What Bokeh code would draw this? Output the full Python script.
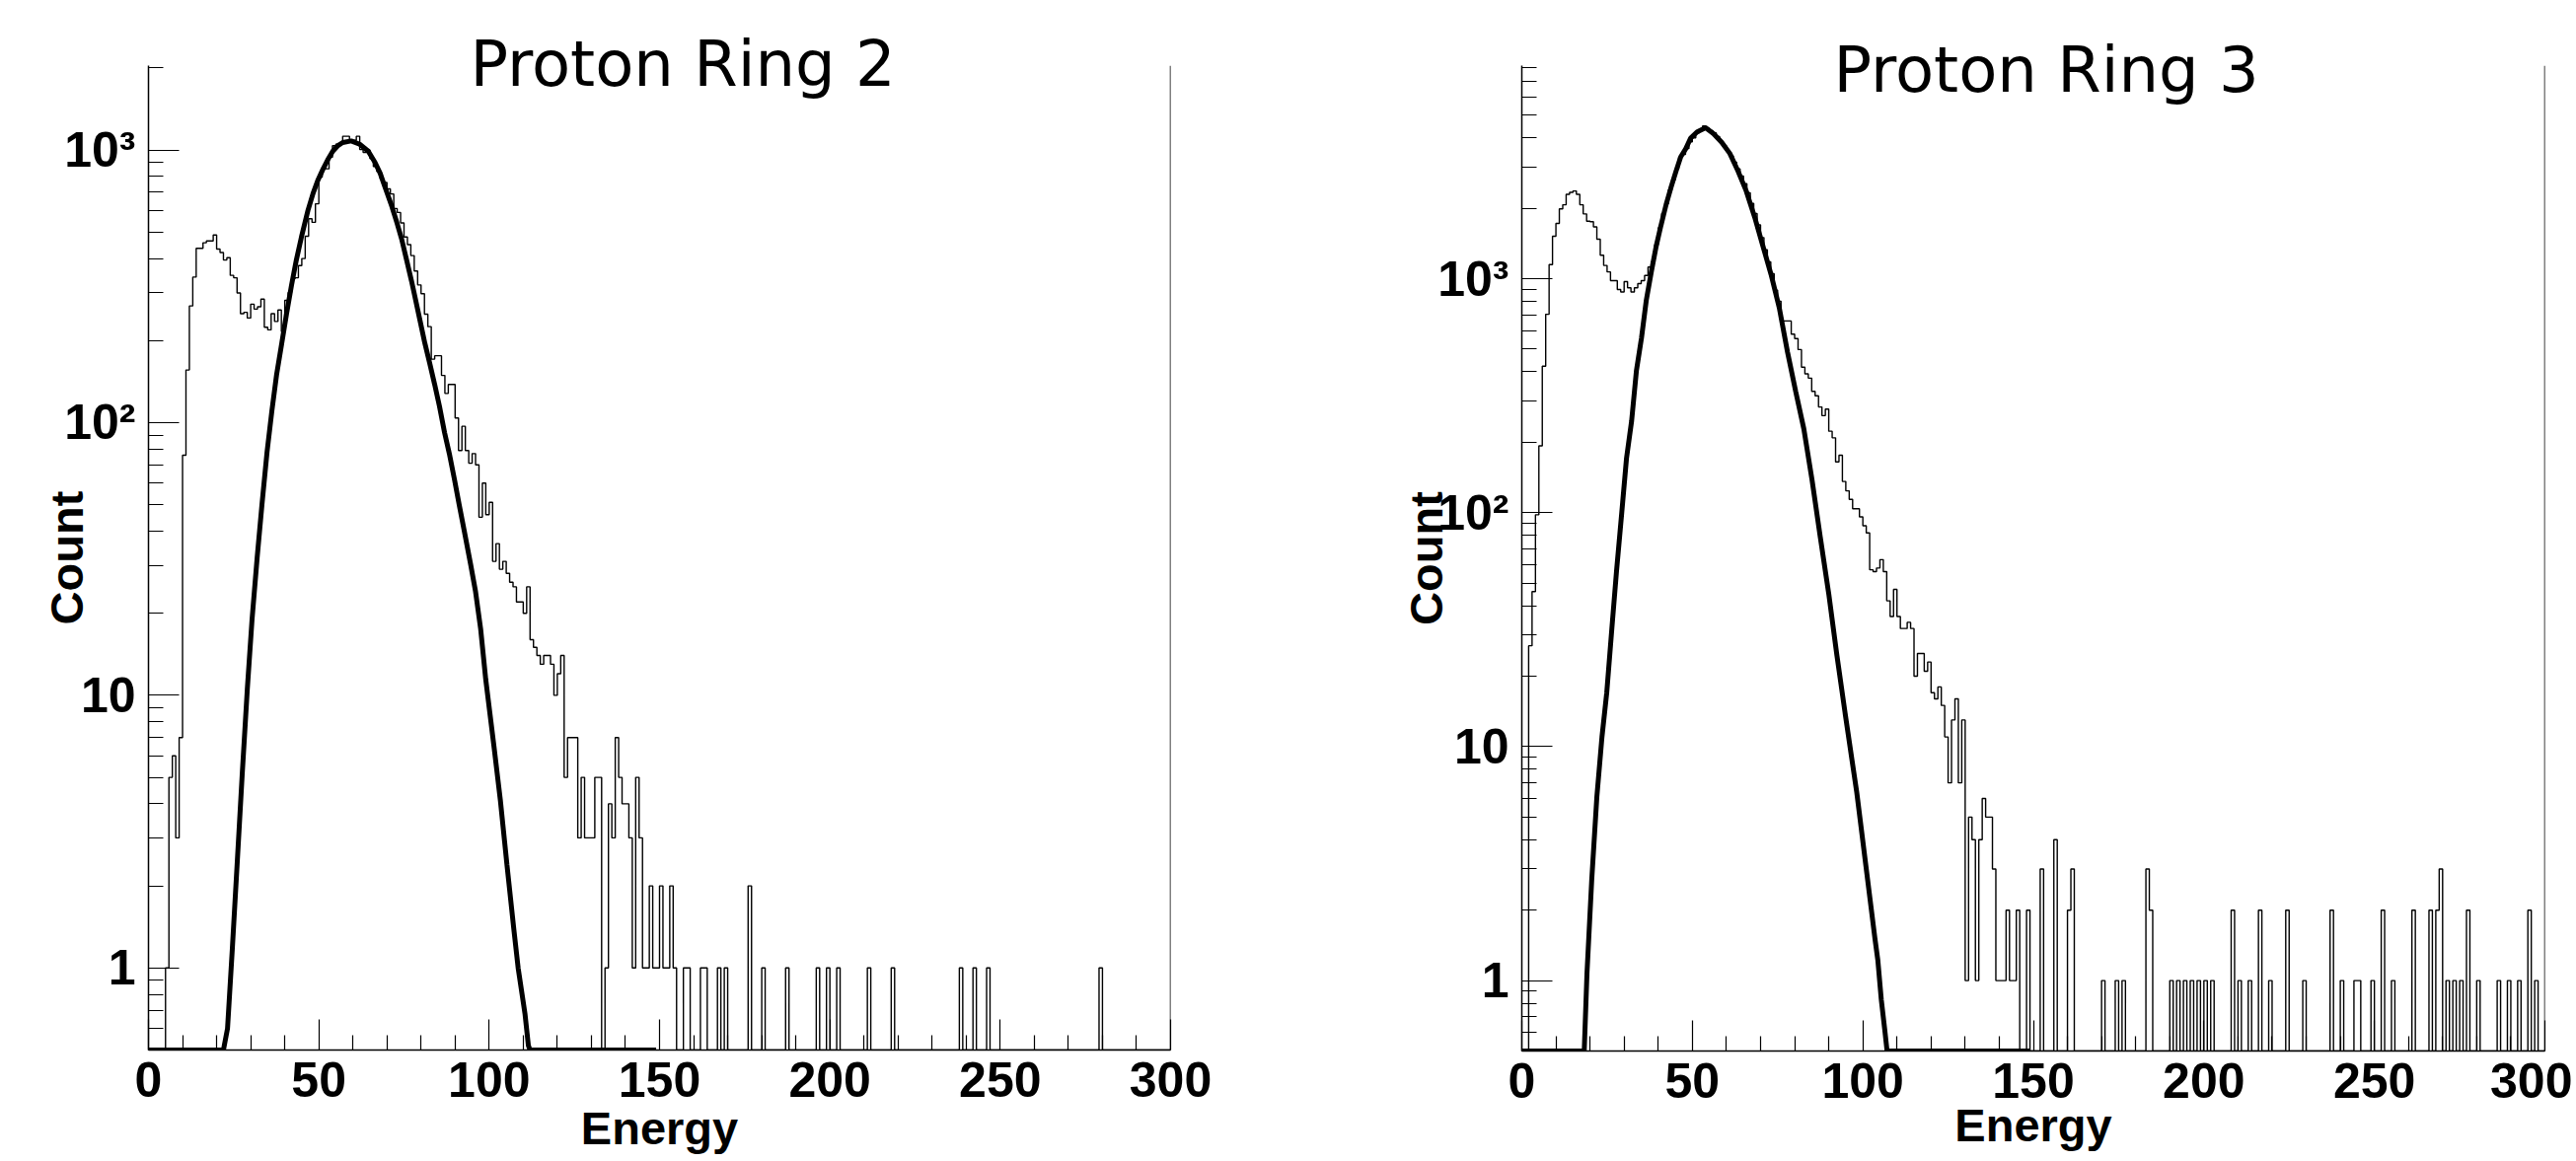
import numpy as np
from bokeh.plotting import figure
from bokeh.layouts import row
from bokeh.models import FixedTicker, Range1d, Span, CustomJSTickFormatter, Title
from bokeh.embed import file_html
from bokeh.resources import INLINE

# ---------------- data ----------------
N_BINS = 300
X_MAJOR = [0, 50, 100, 150, 200, 250, 300]
X_MINOR = [v for v in range(0, 301, 10) if v % 50]
Y_MAJOR = [1, 10, 100, 1000]
Y_MAJOR_LABELS = ["1", "10", "10\u00b2", "10\u00b3"]
Y_MIN = 0.5

# Proton Ring 2: counts of bins 0..149 (bin width 1)
ring2_head = [
    0, 0, 0, 0, 0, 1, 5, 6, 3, 7,
    76, 156, 268, 342, 436, 436, 457, 464, 464, 488,
    433, 421, 395, 403, 347, 340, 299, 251, 254, 242,
    272, 261, 266, 284, 224, 219, 251, 235, 259, 216,
    281, 300, 337, 340, 377, 400, 483, 560, 543, 635,
    796, 866, 853, 941, 1037, 1051, 1051, 1123, 1123, 1085,
    1085, 1123, 1004, 980, 1000, 930, 870, 835, 785, 760,
    720, 690, 610, 590, 540, 480, 450, 410, 360, 320,
    297, 250, 225, 171, 176, 176, 149, 128, 138, 138,
    104, 79, 97, 79, 71, 77, 70, 45, 60, 46,
    51, 31, 36, 29, 31, 28, 26, 25, 22, 22,
    20, 25, 16, 15, 14, 13, 14, 14, 13, 10,
    12, 14, 5, 7, 7, 7, 3, 5, 3, 3,
    3, 5, 5, 0, 1, 4, 3, 7, 5, 4,
    4, 3, 1, 5, 3, 1, 1, 2, 1, 1,
]
ring2_tail_bins = [150, 151, 152, 153, 154, 157, 158, 162, 163, 167, 169, 176, 180, 187,
                   196, 199, 202, 211, 218, 238, 242, 246, 279]
ring2_tail_counts = [2, 1, 1, 2, 1, 1, 1, 1, 1, 1, 1, 2, 1, 1,
                     1, 1, 1, 1, 1, 1, 1, 1, 1]
ring2_fit_x = [0, 22.0, 23.2, 24.6, 26.1, 27.5, 29.0, 30.4, 31.9, 33.3, 34.8, 36.2, 37.6,
               39.1, 40.5, 42.0, 43.4, 44.9, 46.8, 48.3, 49.7, 51.2, 52.6, 54.1, 55.5, 57.0,
               59.5, 62.0, 64.5, 66.5, 68.0, 69.5, 71.4, 72.9, 74.3, 75.8, 77.2, 78.2, 79.6,
               81.1, 82.5, 84.0, 85.4, 86.9, 88.3, 89.8, 91.2, 92.7, 94.6, 96.0, 97.5, 99.0,
               101.4, 103.3, 105.2, 107.2, 108.5, 110.5, 111.5, 112.0, 149.0]
ring2_fit_y = [0, 0, 0.6, 1.17, 2.5, 5.1, 10.5, 19, 32, 50, 78, 110, 150,
               195, 250, 320, 395, 480, 600, 693, 774, 850, 920, 990, 1035, 1065,
               1080, 1050, 990, 900, 822, 726, 623, 542, 472, 393, 331, 290, 240,
               196, 166, 138, 115, 92, 77, 62, 50, 40, 30, 24, 17.5, 11.4,
               6.5, 4.1, 2.4, 1.4, 1.0, 0.68, 0.52, 0, 0]

# Proton Ring 3
ring3_head = [
    0, 0, 27, 46, 98, 193, 423, 705, 1150, 1520,
    1725, 1990, 2071, 2295, 2340, 2373, 2295, 2071, 1893, 1761,
    1753, 1667, 1475, 1260, 1140, 1070, 982, 982, 900, 878,
    972, 915, 878, 915, 953, 982, 1033, 1122, 1180, 1400,
    1650, 1900, 2100, 2400, 2650, 2950, 3300, 3400, 3600, 3850,
    4000, 4200, 4300, 4500, 4400, 4300, 4200, 4050, 3850, 3700,
    3500, 3350, 3150, 2950, 2750, 2550, 2330, 2100, 1900, 1700,
    1500, 1330, 1180, 1050, 894, 802, 660, 660, 660, 580,
    555, 498, 419, 392, 376, 330, 316, 283, 260, 277,
    223, 209, 165, 176, 136, 124, 114, 104, 104, 96,
    88, 82, 57, 56, 58, 63, 56, 42, 36, 47,
    36, 32, 32, 34, 32, 20, 25, 25, 21, 23,
    17, 16, 18, 15, 11, 7, 13, 16, 7, 13,
    1, 5, 4, 1, 4, 6, 5, 5, 3, 1,
    1, 1, 2, 1, 1, 2, 0, 0, 2, 0,
]
ring3_tail_bins = [152, 156, 160, 161, 170, 174, 176, 183, 184, 190, 192, 194, 196, 198,
                   200, 202, 208, 210, 213, 216, 219, 224, 229, 237, 240, 244, 245, 249,
                   252, 255, 261, 266, 268, 269, 271, 273, 275, 277, 280, 286, 289, 292,
                   295, 297]
ring3_tail_counts = [3, 4, 2, 3, 1, 1, 1, 3, 2, 1, 1, 1, 1, 1,
                     1, 1, 2, 1, 1, 2, 1, 2, 1, 2, 1, 1, 1, 1,
                     2, 1, 2, 2, 2, 3, 1, 1, 1, 2, 1, 1, 1, 1,
                     2, 1]
ring3_fit_x = [0, 18.3, 19.1, 20.5, 22.0, 23.5, 24.9, 26.4, 27.8, 29.3, 30.7, 32.2, 33.6,
               35.1, 36.5, 38.0, 39.4, 40.8, 42.3, 43.7, 45.2, 46.6, 48.1, 49.5, 51.4, 53.9,
               56.2, 58.6, 61.0, 63.4, 65.8, 68.3, 70.7, 73.1, 75.5, 77.9, 80.3, 82.7, 85.1,
               87.5, 90.0, 92.4, 94.8, 96.7, 98.2, 103.5, 104.4, 105.4, 106.4, 107.1, 149.0]
ring3_fit_y = [0, 0, 1.07, 2.7, 6.1, 11, 17, 32, 57, 100, 171, 247, 404,
               560, 809, 1077, 1377, 1690, 2073, 2443, 2877, 3320, 3600, 3990, 4245, 4420,
               4170, 3830, 3430, 2882, 2372, 1829, 1379, 1041, 751, 487, 330, 228, 138,
               79, 45, 24.5, 13.9, 9.0, 6.4, 1.53, 1.22, 0.83, 0.62, 0, 0]

TITLES = ["Proton Ring 2", "Proton Ring 3"]
X_TITLE = "Energy"
Y_TITLE = "Count"
Y_TOPS = [2040, 8150]


def full_counts(head, tail_bins, tail_counts):
    c = np.zeros(N_BINS)
    c[:len(head)] = head
    for b, n in zip(tail_bins, tail_counts):
        c[b] = n
    return c


def step_path(counts):
    xs, ys = [], []
    for i, c in enumerate(counts):
        y = max(c, Y_MIN)
        xs += [i, i + 1]
        ys += [y, y]
    return xs, ys


def y_minor(top):
    ticks = [0.6, 0.7, 0.8, 0.9]
    for dec in [1, 10, 100, 1000]:
        for m in range(2, 10):
            v = m * dec
            if v <= top:
                ticks.append(v)
    return ticks


FONT = "Liberation Sans"


def make_panel(title, counts, fx, fy, ytop, geo):
    t = Title(text=title, align="left", offset=geo["toff"], standoff=geo["tso"],
              vertical_align="bottom", text_font="DejaVu Sans", text_font_size="64px",
              text_font_style="normal", text_color="black")
    p = figure(x_range=Range1d(0, 300), y_range=Range1d(Y_MIN, ytop), y_axis_type="log",
               title=t, title_location="above",
               frame_width=geo["fw"], frame_height=geo["fh"],
               min_border_left=geo["bl"], min_border_right=geo["br"],
               min_border_top=geo["bt"], min_border_bottom=geo["bb"],
               output_backend="svg", toolbar_location=None)
    p.grid.visible = False
    p.outline_line_color = None
    p.background_fill_color = "white"
    p.border_fill_color = "white"

    xs, ys = step_path(counts)
    p.line(xs, ys, line_color="black", line_width=1.4)
    p.line(fx, np.maximum(np.array(fy, dtype=float), Y_MIN), line_color="black", line_width=5)

    p.add_layout(Span(location=300, dimension="height", line_color="black", line_width=1.5))

    for ax in (p.xaxis[0], p.yaxis[0]):
        ax.axis_line_color = "black"
        ax.axis_line_width = 1.5
        ax.major_tick_line_color = "black"
        ax.minor_tick_line_color = "black"
        ax.major_tick_line_width = 1.2
        ax.minor_tick_line_width = 1.2
        ax.major_tick_in = 31
        ax.major_tick_out = 0
        ax.minor_tick_in = 15
        ax.minor_tick_out = 0
        ax.major_label_text_font = FONT
        ax.major_label_text_font_style = "bold"
        ax.major_label_text_font_size = "50px"
        ax.major_label_text_color = "black"
        ax.axis_label_text_font = FONT
        ax.axis_label_text_font_style = "bold"
        ax.axis_label_text_font_size = "47px"
        ax.axis_label_text_color = "black"

    p.xaxis.ticker = FixedTicker(ticks=X_MAJOR, minor_ticks=X_MINOR)
    p.yaxis.ticker = FixedTicker(ticks=Y_MAJOR, minor_ticks=y_minor(ytop))
    p.yaxis.formatter = CustomJSTickFormatter(
        args=dict(vals=Y_MAJOR, labs=Y_MAJOR_LABELS),
        code="""
        for (let i = 0; i < vals.length; i++) {
            if (Math.abs(vals[i] - tick) < 1e-6 * vals[i]) { return labs[i]; }
        }
        return "";
        """)
    p.xaxis.axis_label = X_TITLE
    p.yaxis.axis_label = Y_TITLE
    p.xaxis.major_label_standoff = 12
    p.yaxis.major_label_standoff = 13
    p.xaxis.axis_label_standoff = geo["xls"]
    p.yaxis.axis_label_standoff = geo["yls"]
    return p


geo_left = dict(fw=1036, fh=998, bl=150, br=114, bt=66, bb=109, xls=2, yls=-32,
                toff=326, tso=-70)
geo_right = dict(fw=1037, fh=999, bl=242, br=28, bt=60, bb=114, xls=-2, yls=-18,
                 toff=316, tso=-82)

c2 = full_counts(ring2_head, ring2_tail_bins, ring2_tail_counts)
c3 = full_counts(ring3_head, ring3_tail_bins, ring3_tail_counts)

p1 = make_panel(TITLES[0], c2, ring2_fit_x, ring2_fit_y, Y_TOPS[0], geo_left)
p2 = make_panel(TITLES[1], c3, ring3_fit_x, ring3_fit_y, Y_TOPS[1], geo_right)

layout = row(p1, p2)
open("out.html", "w").write(file_html(layout, INLINE))
